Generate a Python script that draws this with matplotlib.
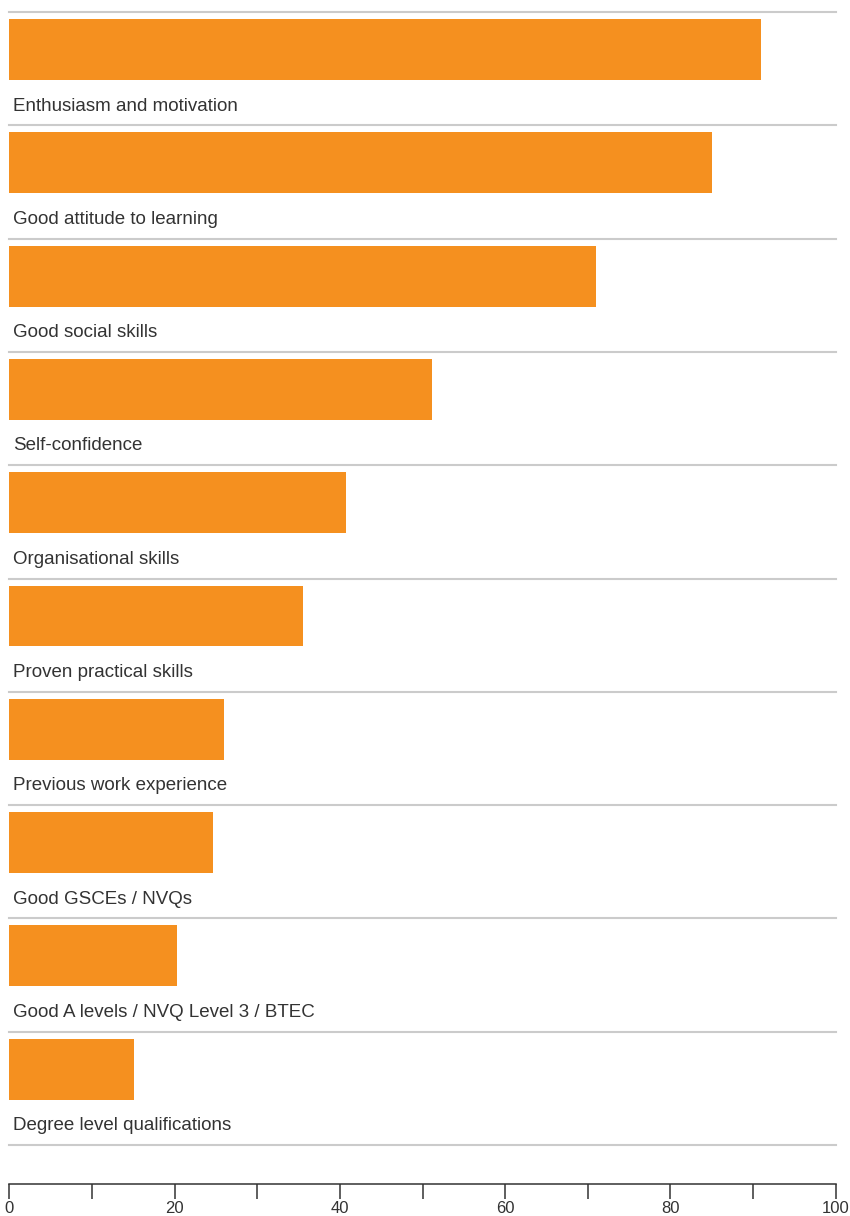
import matplotlib
matplotlib.use("Agg")
import matplotlib.pyplot as plt
from matplotlib.ticker import MultipleLocator

# attributes employers look for, share of respondents (%)
attributes = [
    "Enthusiasm and motivation",
    "Good attitude to learning",
    "Good social skills",
    "Self-confidence",
    "Organisational skills",
    "Proven practical skills",
    "Previous work experience",
    "Good GSCEs / NVQs",
    "Good A levels / NVQ Level 3 / BTEC",
    "Degree level qualifications",
]
shares = [91, 85, 71, 51.2, 40.7, 35.5, 26, 24.7, 20.3, 15.1]

ORANGE = "#F5901F"
TEXT = "#333333"
RULE = "#CBCBCB"

plt.rcParams["font.family"] = ["Liberation Sans", "DejaVu Sans"]

fig = plt.figure(figsize=(8.5, 12.16), dpi=100)
ax = fig.add_axes([0.01094, 0.02632, 0.97226, 0.96381])

n = len(attributes)
for i, (name, val) in enumerate(zip(attributes, shares)):
    ax.barh(i + 0.331, val, height=0.538, left=0, color=ORANGE, zorder=2)
    ax.text(0.5, i + 0.83, name, ha="left", va="center",
            fontsize=13.5, color=TEXT)

# light rules between the rows
for i in range(n + 1):
    ax.axhline(i, color=RULE, linewidth=1.5, zorder=1, clip_on=False)

ax.set_xlim(0, 100)
ax.set_ylim(n + 0.344, 0)

for side in ("top", "right", "left"):
    ax.spines[side].set_visible(False)
ax.spines["bottom"].set_color("#333333")
ax.spines["bottom"].set_linewidth(1.1)

ax.set_yticks([])
ax.xaxis.set_major_locator(MultipleLocator(20))
ax.xaxis.set_minor_locator(MultipleLocator(10))
ax.tick_params(axis="x", which="both", direction="out", length=11,
               width=1.1, color="#333333")
ax.tick_params(axis="x", which="major", pad=1.5, labelsize=12,
               labelcolor=TEXT)

fig.savefig("out.png", dpi=100)
